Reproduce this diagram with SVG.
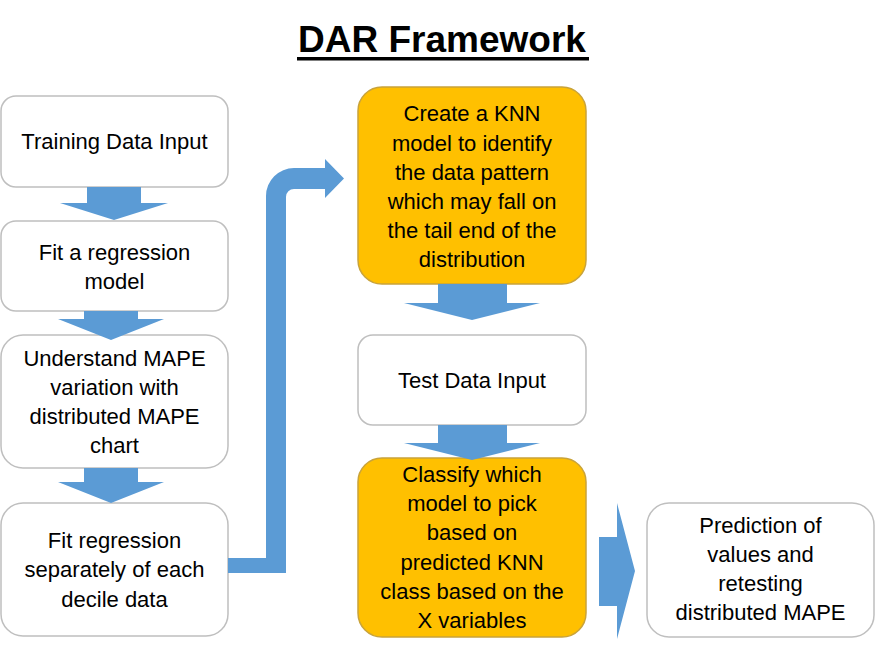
<svg xmlns="http://www.w3.org/2000/svg" width="875" height="650" viewBox="0 0 875 650">
<style>
.w{fill:#ffffff;stroke:#bfbfbf;stroke-width:1.5}
.o{fill:#ffc000;stroke:#c9a33a;stroke-width:1.5}
.t{font-family:"Liberation Sans",Arial,sans-serif;font-size:22px;fill:#000;text-anchor:middle}
.title{font-family:"Liberation Sans",Arial,sans-serif;font-size:37px;font-weight:bold;fill:#000;text-anchor:middle}
.a{fill:#5b9bd5}
</style>
<rect width="875" height="650" fill="#ffffff"/>
<g id="title">
<text class="title" x="442" y="52">DAR Framework</text>
<rect x="297" y="57" width="292" height="3.5" fill="#000"/>
</g>
<g id="training">
<rect class="w" x="1" y="96" width="227" height="91" rx="15"/>
<text class="t" x="114.5" y="149">Training Data Input</text>
</g>
<g id="fit-regression">
<rect class="w" x="1" y="221" width="227" height="90" rx="15"/>
<text class="t" x="114.5" y="260">Fit a regression</text>
<text class="t" x="114.5" y="289">model</text>
</g>
<g id="understand-mape">
<rect class="w" x="1" y="335" width="227" height="133" rx="22"/>
<text class="t" x="114.5" y="366">Understand MAPE</text>
<text class="t" x="114.5" y="395">variation with</text>
<text class="t" x="114.5" y="424">distributed MAPE</text>
<text class="t" x="114.5" y="453">chart</text>
</g>
<g id="fit-decile">
<rect class="w" x="1" y="503" width="227" height="133" rx="22"/>
<text class="t" x="114.5" y="548">Fit regression</text>
<text class="t" x="114.5" y="577">separately of each</text>
<text class="t" x="114.5" y="607">decile data</text>
</g>
<g id="knn">
<rect class="o" x="358" y="87" width="228" height="197" rx="24"/>
<text class="t" x="472" y="121">Create a KNN</text>
<text class="t" x="472" y="151">model to identify</text>
<text class="t" x="472" y="180">the data pattern</text>
<text class="t" x="472" y="209">which may fall on</text>
<text class="t" x="472" y="238">the tail end of the</text>
<text class="t" x="472" y="267">distribution</text>
</g>
<g id="test">
<rect class="w" x="358" y="335" width="228" height="90" rx="15"/>
<text class="t" x="472" y="388">Test Data Input</text>
</g>
<g id="classify">
<rect class="o" x="358" y="458" width="228" height="179" rx="24"/>
<text class="t" x="472" y="482">Classify which</text>
<text class="t" x="472" y="511">model to pick</text>
<text class="t" x="472" y="540">based on</text>
<text class="t" x="472" y="570">predicted KNN</text>
<text class="t" x="472" y="599">class based on the</text>
<text class="t" x="472" y="628">X variables</text>
</g>
<g id="prediction">
<rect class="w" x="647" y="503" width="227" height="134" rx="22"/>
<text class="t" x="760.5" y="533">Prediction of</text>
<text class="t" x="760.5" y="562">values and</text>
<text class="t" x="760.5" y="591">retesting</text>
<text class="t" x="760.5" y="620">distributed MAPE</text>
</g>
<g id="connectors">
<polygon class="a" points="87,187 141,187 141,203 168,203 114,220 60,203 87,203"/>
<polygon class="a" points="84,311 138,311 138,319 164,319 111,340 58,319 84,319"/>
<polygon class="a" points="84,468 138,468 138,482 164,482 111,503 58,482 84,482"/>
<path class="a" d="M228,558 H266 V196 A28,28 0 0 1 294,168 H325 V159 L344,178.5 L325,198 V189 H294 A8,8 0 0 0 286,197 V573 H228 Z"/>
<polygon class="a" points="438,284 507,284 507,303 540,303 472,320 404,303 438,303"/>
<polygon class="a" points="438,425 507,425 507,443 540,443 472,460 404,443 438,443"/>
<polygon class="a" points="599,537 617,537 617,503 635,571 617,639 617,606 599,606"/>
</g>
</svg>
